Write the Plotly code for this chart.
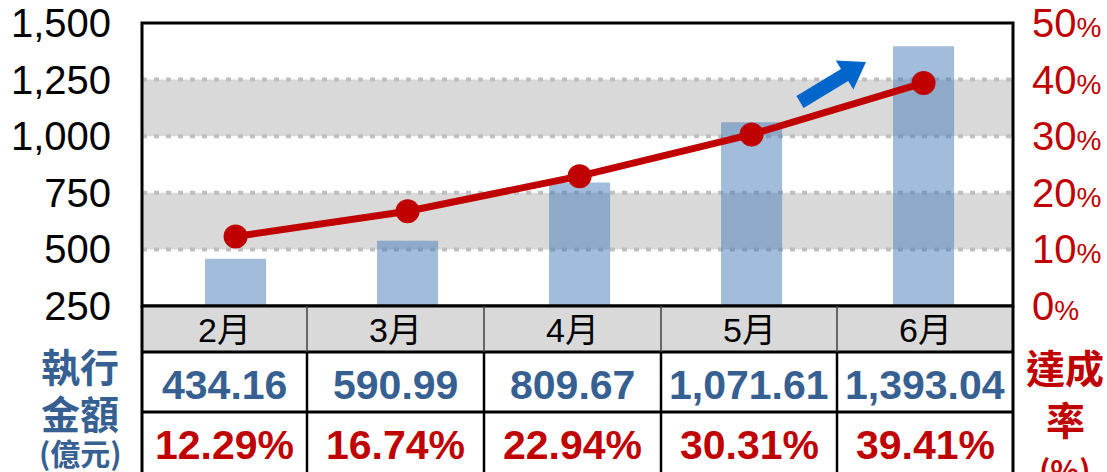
import plotly.graph_objects as go

# ---------------- data ----------------
months = ["2月", "3月", "4月", "5月", "6月"]
amounts = [434.16, 590.99, 809.67, 1071.61, 1393.04]      # 執行金額 (億元), table row
rates = [12.29, 16.74, 22.94, 30.31, 39.41]               # 達成率 (%)
bar_heights = [459, 538, 795, 1062, 1397]                 # bar tops as drawn in the picture
left_ticks = [250, 500, 750, 1000, 1250, 1500]
right_ticks = [0, 10, 20, 30, 40, 50]
band_ranges = [(500, 750), (1000, 1250)]

# ---------------- layout helpers (screen pixels -> paper) ----------------
SW, SH = 1107, 472          # screen size
OFF = 0                     # body margin removed via post_script
W, H = SW - OFF, SH - OFF   # figure size
L, R, T, B = 142, 1013, 23, 306   # plot area in screen pixels


def px(x):
    return (x - L) / (R - L)


def py(y):
    return (B - y) / (B - T)


BLUE_TXT = "#376092"
RED = "#C00000"
LATIN = "Liberation Sans, Arial, Noto Sans CJK TC"
CJK = "Noto Sans CJK TC, Liberation Sans"

fig = go.Figure()
fig.add_trace(go.Bar(
    x=months, y=bar_heights, width=0.355,
    marker=dict(color="rgba(69,121,183,0.5)", line=dict(width=0)),
    yaxis="y", showlegend=False, hoverinfo="skip"))
fig.add_trace(go.Scatter(
    x=months, y=rates, mode="lines+markers", yaxis="y2",
    line=dict(color=RED, width=7),
    marker=dict(color=RED, size=24),
    showlegend=False, cliponaxis=False))

shapes = []
for lo, hi in band_ranges:
    shapes.append(dict(type="rect", xref="paper", yref="y", x0=0, x1=1, y0=lo, y1=hi,
                       fillcolor="#D9D9D9", line=dict(width=0), layer="below"))
for v in [500, 750, 1000, 1250]:
    shapes.append(dict(type="line", xref="paper", yref="y", x0=0, x1=1, y0=v, y1=v,
                       line=dict(color="#BFBFBF", width=4, dash="5px,7px"), layer="below"))
# plot frame
shapes.append(dict(type="rect", xref="paper", yref="paper", x0=0, x1=1, y0=0, y1=1,
                   line=dict(color="black", width=3), layer="above"))

# table
col_edges = [142, 307, 484, 661, 837, 1013]
row_edges = [306, 352, 412, 472]
shapes.append(dict(type="rect", xref="paper", yref="paper", x0=px(142), x1=px(1013),
                   y0=py(352), y1=py(306), fillcolor="#D9D9D9", line=dict(width=0), layer="above"))
for ye in row_edges[:3]:
    shapes.append(dict(type="line", xref="paper", yref="paper", x0=px(141), x1=px(1014),
                       y0=py(ye), y1=py(ye), line=dict(color="black", width=3), layer="above"))
for xe in [142, 1013]:
    shapes.append(dict(type="line", xref="paper", yref="paper", x0=px(xe), x1=px(xe),
                       y0=py(306), y1=py(474), line=dict(color="black", width=3), layer="above"))
for xe in col_edges[1:-1]:
    shapes.append(dict(type="line", xref="paper", yref="paper", x0=px(xe), x1=px(xe),
                       y0=py(306), y1=py(352), line=dict(color="#404040", width=1.5), layer="above"))
    shapes.append(dict(type="line", xref="paper", yref="paper", x0=px(xe), x1=px(xe),
                       y0=py(352), y1=py(474), line=dict(color="black", width=2.5), layer="above"))

# blue block arrow
arrow_px = [(803.6, 108), (848.2, 81), (853.4, 89.6), (866, 62), (835.8, 60.4), (841, 69), (796.4, 96)]
path = "M " + " L ".join(f"{px(x):.5f},{py(y):.5f}" for x, y in arrow_px) + " Z"
shapes.append(dict(type="path", xref="paper", yref="paper", path=path,
                   fillcolor="#0066CC", line=dict(width=0), layer="above"))

annotations = []
centers = [(col_edges[i] + col_edges[i + 1]) / 2 for i in range(5)]
for i in range(5):
    annotations.append(dict(x=px(centers[i]), y=py(330), xref="paper", yref="paper", showarrow=False,
                            text=months[i], font=dict(family=LATIN, size=34, color="black"),
                            xanchor="center", yanchor="middle"))
    annotations.append(dict(x=px(centers[i]), y=py(385), xref="paper", yref="paper", showarrow=False,
                            text=f"<b>{amounts[i]:,.2f}</b>", font=dict(family=LATIN, size=41, color=BLUE_TXT),
                            xanchor="center", yanchor="middle"))
    annotations.append(dict(x=px(centers[i]), y=py(445), xref="paper", yref="paper", showarrow=False,
                            text=f"<b>{rates[i]:.2f}%</b>", font=dict(family=LATIN, size=41, color=RED),
                            xanchor="center", yanchor="middle"))

side = [("<b>執行</b>", 80, 365, 39, BLUE_TXT), ("<b>金額</b>", 80, 412, 39, BLUE_TXT),
        ("<b>(億元)</b>", 80, 452, 30, BLUE_TXT),
        ("<b>達成</b>", 1065, 366, 39, RED), ("<b>率</b>", 1065, 418, 39, RED),
        ("<b>(%)</b>", 1065, 469, 30, RED)]
for txt, x, y, s, c in side:
    annotations.append(dict(x=px(x), y=py(y), xref="paper", yref="paper", showarrow=False,
                            text=txt, font=dict(family=CJK, size=s, color=c),
                            xanchor="center", yanchor="middle"))

fig.update_layout(
    width=W, height=H,
    margin=dict(l=L - OFF, r=SW - R, t=T - OFF, b=SH - B, pad=0),
    paper_bgcolor="white", plot_bgcolor="rgba(0,0,0,0)",
    showlegend=False, hovermode=False,
    xaxis=dict(type="category", range=[-0.544, 4.52], showticklabels=False, showgrid=False,
               zeroline=False, showline=False, ticks="", fixedrange=True),
    yaxis=dict(range=[250, 1500], tickvals=left_ticks,
               ticktext=[f"{v:,}" for v in left_ticks],
               tickfont=dict(family=LATIN, size=40, color="black"),
               showgrid=False, zeroline=False, showline=False, ticks="",
               ticklabelstandoff=30, ticklabeloverflow="allow", automargin=False),
    yaxis2=dict(range=[0, 50], overlaying="y", side="right", tickvals=right_ticks,
                ticktext=[f"{v}<span style='font-size:28px'>%</span>" for v in right_ticks],
                tickfont=dict(family=LATIN, size=40, color=RED),
                showgrid=False, zeroline=False, showline=False, ticks="",
                ticklabelstandoff=18, ticklabeloverflow="allow", automargin=False),
    shapes=shapes, annotations=annotations,
)

fig.write_html("out.html", config={"displayModeBar": False, "staticPlot": True},
               post_script="document.body.style.margin='0';document.body.style.overflow='hidden';")
